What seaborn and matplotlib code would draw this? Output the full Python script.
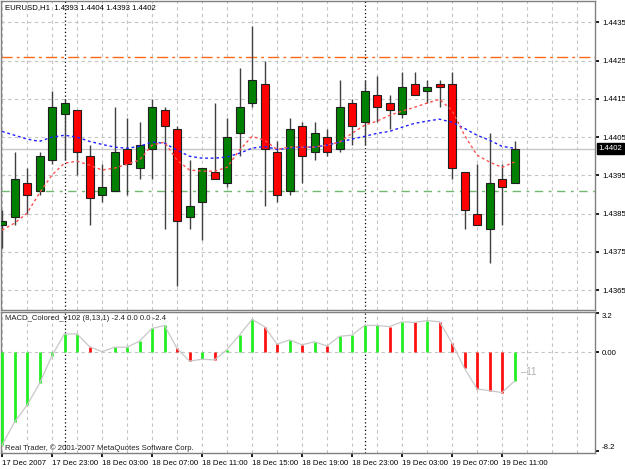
import numpy as np
import pandas as pd
import seaborn as sns
import matplotlib.pyplot as plt

sns.set_theme(style="white")
plt.rcParams['font.family'] = ['Liberation Sans', 'DejaVu Sans']

# --- EURUSD H1, 17 Dec 19:00 .. 19 Dec 12:00 ---
opens = [1.4382, 1.4384, 1.4393, 1.4391, 1.4399, 1.4411, 1.4412, 1.4400, 1.4390, 1.4391,
         1.4402, 1.4397, 1.4402, 1.4412, 1.4407, 1.4384, 1.4388, 1.4396, 1.4393, 1.4406,
         1.4414, 1.4419, 1.4401, 1.4391, 1.4408, 1.4401, 1.4405, 1.4402, 1.4414, 1.4409,
         1.4416, 1.4414, 1.4411, 1.4419, 1.4417, 1.4419, 1.4419, 1.4396, 1.4385, 1.4381,
         1.4394, 1.4393]
highs = [1.4386, 1.4401, 1.4397, 1.4401, 1.4417, 1.4415, 1.4412, 1.4403, 1.4398, 1.4413,
         1.4410, 1.4409, 1.4415, 1.4413, 1.4408, 1.4399, 1.4397, 1.4414, 1.4410, 1.4423,
         1.4434, 1.4425, 1.4404, 1.4410, 1.4409, 1.4409, 1.4407, 1.4420, 1.4415, 1.4420,
         1.4421, 1.4416, 1.4422, 1.4422, 1.4420, 1.4420, 1.4422, 1.4396, 1.4398, 1.4406,
         1.4398, 1.4404]
lows = [1.4376, 1.4382, 1.4385, 1.4390, 1.4398, 1.4399, 1.4395, 1.4382, 1.4388, 1.4391,
        1.4390, 1.4394, 1.4394, 1.4381, 1.4366, 1.4381, 1.4378, 1.4394, 1.4392, 1.4400,
        1.4413, 1.4387, 1.4388, 1.4390, 1.4393, 1.4399, 1.4400, 1.4401, 1.4403, 1.4403,
        1.4409, 1.4407, 1.4410, 1.4416, 1.4414, 1.4413, 1.4394, 1.4381, 1.4382, 1.4372,
        1.4382, 1.4393]
closes = [1.4383, 1.4394, 1.4390, 1.4400, 1.4413, 1.4414, 1.4401, 1.4389, 1.4392, 1.4401,
          1.4398, 1.4403, 1.4413, 1.4408, 1.4383, 1.4387, 1.4397, 1.4394, 1.4405, 1.4413,
          1.4420, 1.4402, 1.4390, 1.4407, 1.4400, 1.4406, 1.4401, 1.4413, 1.4408, 1.4417,
          1.4413, 1.4412, 1.4418, 1.4416, 1.4418, 1.4418, 1.4397, 1.4386, 1.4382, 1.4393,
          1.4392, 1.4402]
ma_fast = [1.43807, 1.43825, 1.43851, 1.43904, 1.43951, 1.43982, 1.43987, 1.43977, 1.43964, 1.43969,
           1.43979, 1.43990, 1.44029, 1.44037, 1.43990, 1.43964, 1.43961, 1.43961, 1.43971, 1.44016,
           1.44052, 1.44042, 1.44018, 1.44024, 1.44024, 1.44024, 1.44029, 1.44037, 1.44060, 1.44081,
           1.44092, 1.44107, 1.44118, 1.44128, 1.44139, 1.44149, 1.44120, 1.44055, 1.44003, 1.43985,
           1.43971, 1.43985]
ma_slow = [1.44065, 1.44055, 1.44045, 1.44039, 1.44050, 1.44055, 1.44050, 1.44039, 1.44031, 1.44024,
           1.44021, 1.44026, 1.44037, 1.44034, 1.44016, 1.44000, 1.43995, 1.43995, 1.43998, 1.44008,
           1.44021, 1.44026, 1.44018, 1.44021, 1.44024, 1.44024, 1.44029, 1.44037, 1.44045, 1.44052,
           1.44060, 1.44065, 1.44076, 1.44086, 1.44092, 1.44097, 1.44089, 1.44073, 1.44055, 1.44042,
           1.44026, 1.44021]
macd = [-7.7, -5.8, -4.4, -2.6, -0.3, 1.5, 1.5, 0.45, 0.02, 0.4,
        0.4, 0.9, 1.95, 2.2, 0.3, -0.75, -0.6, -0.65, 0.2, 1.4,
        2.7, 2.1, 0.65, 1.0, 0.6, 0.85, 0.5, 1.3, 1.4, 2.2,
        2.2, 2.1, 2.5, 2.45, 2.6, 2.5, 0.75, -1.35, -3.05, -3.2,
        -3.35, -2.4]
time_labels = ["17 Dec 2007", "17 Dec 23:00", "18 Dec 03:00", "18 Dec 07:00", "18 Dec 11:00",
               "18 Dec 15:00", "18 Dec 19:00", "18 Dec 23:00", "19 Dec 03:00", "19 Dec 07:00",
               "19 Dec 11:00"]
price_ticks = [1.4365, 1.4375, 1.4385, 1.4395, 1.4405, 1.4415, 1.4425, 1.4435]
day_starts = [5, 29]
level_high = 1.4426
level_low = 1.4391
bid = 1.4402

df = pd.DataFrame({'bar': np.arange(len(opens)), 'open': opens, 'high': highs,
                   'low': lows, 'close': closes, 'ma_fast': ma_fast, 'ma_slow': ma_slow,
                   'macd': macd})

W, H = 625, 469
fig = plt.figure(figsize=(W / 100, H / 100), dpi=100)
ax = fig.add_axes([1 / W, (H - 310) / H, 594 / W, 309 / H])
ax2 = fig.add_axes([1 / W, (H - 453) / H, 594 / W, 141 / H])

grid_kw = dict(color='#c4c4c4', linestyle=(0, (3, 3)), linewidth=0.8)
xlim = (-0.08, 47.44)
FS = 5.6

# --- main panel ---
for a in (ax, ax2):
    a.set_facecolor('white')
    a.set_xlim(*xlim)
    for x in range(0, 48, 2):
        a.axvline(x, zorder=0, **grid_kw)
    for s in a.spines.values():
        s.set_color('#808080')
        s.set_linewidth(1)
    for d in day_starts:
        a.axvline(d, color='black', linestyle=(0, (1, 2)), linewidth=0.9, zorder=1)

for p in price_ticks:
    ax.axhline(p, zorder=0, **grid_kw)

ax.axhline(level_high, color='#ff6a1a', linestyle=(0, (8, 3, 2, 3)), linewidth=1, zorder=1)
ax.axhline(level_low, color='#70b870', linestyle=(0, (6, 4, 2, 4)), linewidth=1, zorder=1)
ax.axhline(bid, color='#c8c8c8', linewidth=1, zorder=1)

ax.vlines(df['bar'], df['low'], df['high'], color='#404040', linewidth=1, zorder=3)
up = df['close'] >= df['open']
body_lo = np.minimum(df['open'], df['close'])
body_h = np.maximum((df['close'] - df['open']).abs(), 0.00004)
ax.bar(df['bar'], body_h, bottom=body_lo, width=0.64,
       color=np.where(up, '#008000', '#ff0000'), edgecolor='#202020', linewidth=0.8, zorder=4)

sns.lineplot(data=df, x='bar', y='ma_slow', ax=ax, color='#2020ff', linewidth=1,
             linestyle=(0, (2, 2)), zorder=5)
sns.lineplot(data=df, x='bar', y='ma_fast', ax=ax, color='#ff5050', linewidth=1,
             linestyle=(0, (2, 2)), zorder=5)

ax.set_ylim(1.43598, 1.44406)
ax.yaxis.tick_right()
ax.set_yticks(price_ticks)
ax.set_yticklabels([f"{p:.4f}" for p in price_ticks])
ax.tick_params(axis='y', labelsize=FS, length=3, pad=2, colors='black', direction='out', right=True)
ax.tick_params(axis='x', length=0, labelbottom=False)
ax.set_xlabel('')
ax.set_ylabel('')
ax.text(1.006, bid, f"{bid:.4f}", transform=ax.get_yaxis_transform(), fontsize=FS,
        color='white', va='center', ha='left', clip_on=False,
        bbox=dict(facecolor='black', edgecolor='black', pad=1.2))
ax.text(4 / 594, 1 - 7 / 309, "EURUSD,H1  1.4393 1.4404 1.4393 1.4402", transform=ax.transAxes,
        fontsize=FS, va='center', ha='left', color='black')

# --- MACD panel ---
ax2.axhline(0, zorder=0, **grid_kw)
prev = np.r_[df['macd'].iloc[0] - 1, df['macd'].values[:-1]]
colors = np.where(df['macd'] >= prev, '#22ee22', '#ff1010')
ax2.vlines(df['bar'], 0, df['macd'], colors=colors, linewidth=2, zorder=3)
sns.lineplot(data=df, x='bar', y='macd', ax=ax2, color='#c8c8c8', linewidth=0.9, zorder=4)
ax2.set_ylim(-8.35, 3.31)
ax2.yaxis.tick_right()
ax2.set_yticks([3.2, 0.0, -8.2])
ax2.set_yticklabels(["3.2", "0.00", "-8.2"])
ax2.tick_params(axis='y', labelsize=FS, length=3, pad=2, colors='black', right=True)
labs = ax2.get_yticklabels()
labs[0].set_va('top')
labs[2].set_va('bottom')
ax2.set_xticks(range(0, 44, 4))
ax2.set_xticklabels(time_labels)
ax2.tick_params(axis='x', labelsize=FS, length=3, pad=2, colors='black', bottom=True, direction='out')
for t in ax2.get_xticklabels():
    t.set_ha('left')
ax2.set_xlabel('')
ax2.set_ylabel('')
ax2.text(4 / 594, 1 - 7 / 141, "MACD_Colored_v102 (8,13,1) -2.4 0.0 0.0 -2.4",
         transform=ax2.transAxes, fontsize=FS, va='center', ha='left', color='#202020')
ax2.text(4 / 594, 5 / 141, "Real Trader, \u00a9 2001-2007 MetaQuotes Software Corp.",
         transform=ax2.transAxes, fontsize=FS, va='center', ha='left', color='#202020')
ax2.text(41.5, -1.65, "\u201311", fontsize=7, color='#b0b0b0', va='center', ha='left')

fig.savefig("out.png", dpi=100, facecolor='white')
